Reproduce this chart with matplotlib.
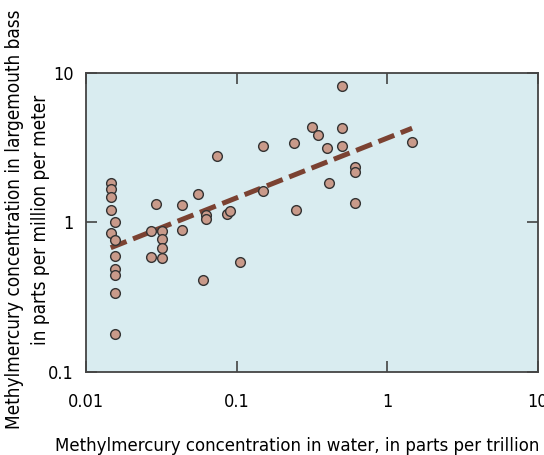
import matplotlib.pyplot as plt
plt.switch_backend("agg")
from matplotlib.ticker import FixedLocator, NullLocator, FixedFormatter

plt.rcParams['font.family'] = ['DejaVu Sans']
plt.rcParams['font.stretch'] = 'condensed'

# water methylmercury (ppt) vs bass methylmercury (ppm per meter)
water_ppt = [0.0146, 0.0146, 0.0146, 0.0146, 0.0146,
             0.0156, 0.0156, 0.0156, 0.0156, 0.0156, 0.0156, 0.0156,
             0.0269, 0.0269, 0.029,
             0.0318, 0.0318, 0.0318, 0.0318,
             0.0431, 0.0431, 0.0551, 0.060, 0.0625, 0.0625,
             0.0736, 0.0859, 0.0903, 0.1057,
             0.150, 0.150, 0.240, 0.246, 0.318, 0.346, 0.399, 0.411,
             0.502, 0.502, 0.502, 0.610, 0.610, 0.610, 1.46]
bass_ppm = [1.83, 1.67, 1.49, 1.21, 0.847,
            1.01, 0.764, 0.597, 0.486, 0.446, 0.336, 0.180,
            0.877, 0.585, 1.32,
            0.877, 0.776, 0.678, 0.577,
            1.30, 0.887, 1.55, 0.412, 1.12, 1.05,
            2.80, 1.14, 1.20, 0.545,
            3.25, 1.62, 3.42, 1.22, 4.38, 3.85, 3.16, 1.83,
            8.22, 4.31, 3.25, 2.36, 2.17, 1.34, 3.44]

# regression line end points
fit_x = [0.0146, 1.46]
fit_y = [0.678, 4.27]

xticks = [0.01, 0.1, 1, 10]
xtick_labels = ["0.01", "0.1", "1", "10"]
yticks = [0.1, 1, 10]
ytick_labels = ["0.1", "1", "10"]

fig = plt.figure(figsize=(5.44, 4.55), dpi=100)
ax = fig.add_axes([0.158, 0.1824, 0.831, 0.6572])
ax.set_facecolor("#d9ecf0")

ax.plot(fit_x, fit_y, color="#7b4232", linewidth=3.6, linestyle=(0, (3.4, 1.4)),
        zorder=2, solid_capstyle="butt")
ax.plot(water_ppt, bass_ppm, linestyle="none", marker="o", markersize=7,
        markerfacecolor="#c99a8a", markeredgecolor="#333333", markeredgewidth=1.0,
        zorder=3)

ax.set_xscale("log")
ax.set_yscale("log")
ax.set_xlim(0.01, 10)
ax.set_ylim(0.1, 10)
ax.xaxis.set_major_locator(FixedLocator(xticks))
ax.xaxis.set_major_formatter(FixedFormatter(xtick_labels))
ax.xaxis.set_minor_locator(NullLocator())
ax.yaxis.set_major_locator(FixedLocator(yticks))
ax.yaxis.set_major_formatter(FixedFormatter(ytick_labels))
ax.yaxis.set_minor_locator(NullLocator())

ax.tick_params(direction="in", length=8, width=1.2, color="#444444",
               top=True, right=True, labelsize=13)
ax.tick_params(axis="x", pad=15)
ax.tick_params(axis="y", pad=9)
for s in ax.spines.values():
    s.set_color("#444444")
    s.set_linewidth(1.3)

ax.set_xlabel("Methylmercury concentration in water, in parts per trillion",
              fontsize=13.3)
ax.xaxis.set_label_coords(0.467, -0.217)
ax.set_ylabel("Methylmercury concentration in largemouth bass\nin parts per million per meter",
              fontsize=13.6, linespacing=1.45)
ax.yaxis.set_label_coords(-0.08, 0.51)

plt.savefig("out.png", dpi=100)
